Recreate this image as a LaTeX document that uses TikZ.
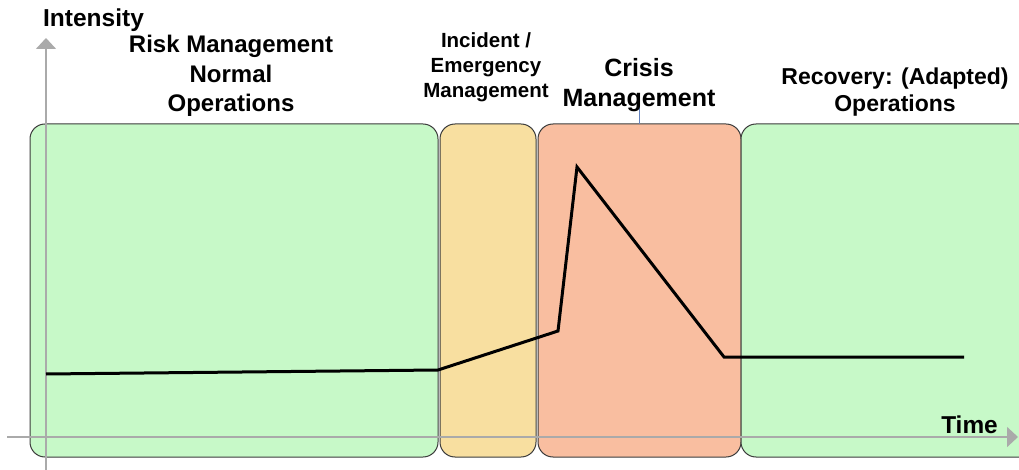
\documentclass[tikz,border=0pt]{standalone}
\usepackage{fontspec}
\setmainfont{Liberation Sans}
\usetikzlibrary{arrows.meta}
\definecolor{phgreen}{RGB}{199,249,200}
\definecolor{phyellow}{RGB}{248,223,160}
\definecolor{phsalmon}{RGB}{249,190,160}
\definecolor{edgegray}{RGB}{60,60,60}
\definecolor{axisgray}{RGB}{170,170,170}
\definecolor{thinblue}{RGB}{100,130,190}
\tikzset{
  phase/.style={draw=edgegray, line width=1pt, rounded corners=15pt},
  axisline/.style={draw=axisgray, line width=1.6pt, -{Triangle[length=11pt,width=20pt]}},
  curveline/.style={draw=black, line width=3pt},
  lbl/.style={anchor=base, inner sep=0pt, font=\bfseries},
}
\newcommand{\lines}[1]{\begin{tabular}[t]{@{}c@{}}#1\end{tabular}}
\begin{document}
\begin{tikzpicture}[x=1pt,y=-1pt]
\useasboundingbox (0,0) rectangle (1019,470);
\clip (0,0) rectangle (1019,470);
% phase boxes
\draw[phase, fill=phgreen] (30,124) rectangle (438,457);
\draw[phase, fill=phyellow] (440,124) rectangle (536,457);
\draw[phase, fill=phsalmon] (538,124) rectangle (741,457);
\draw[phase, fill=phgreen] (741,124) rectangle (1060,457);
% axes
\coordinate (ybot) at (46,475);
\coordinate (ytop) at (46,38);
\coordinate (xleft) at (7,437);
\coordinate (xright) at (1018,437);
\draw[axisline] (ybot) -- (ytop);
\draw[axisline] (xleft) -- (xright);
% thin marker line
\coordinate (mtop) at (639,96);
\coordinate (mbot) at (639,124);
\draw[thinblue, line width=0.6pt] (mtop) -- (mbot);
% intensity curve
\coordinate (p0) at (46,374);
\coordinate (p1) at (438,370);
\coordinate (p2) at (558,331);
\coordinate (p3) at (577,167);
\coordinate (p4) at (724,357);
\coordinate (p5) at (964,357);
\draw[curveline] (p0) -- (p1) -- (p2) -- (p3) -- (p4) -- (p5);
% labels
\node[lbl, font=\bfseries\fontsize{24.5}{29}\selectfont] (intensity) at (93.5,27) {Intensity};
\node[lbl, font=\bfseries\fontsize{24}{29.5}\selectfont] (risk) at (231,53) {\lines{Risk Management\\Normal\\Operations}};
\node[lbl, font=\bfseries\fontsize{20.5}{25}\selectfont] (incident) at (486,48) {\lines{Incident /\\Emergency\\Management}};
\node[lbl, font=\bfseries\fontsize{25}{30}\selectfont] (crisis) at (639,77) {\lines{Crisis\\Management}};
\node[lbl, font=\bfseries\fontsize{23}{27}\selectfont] (recovery) at (895,85) {\lines{Recovery: (Adapted)\\Operations}};
\node[lbl, font=\bfseries\fontsize{24.4}{29}\selectfont] (time) at (969.5,433) {Time};
\end{tikzpicture}
\end{document}
